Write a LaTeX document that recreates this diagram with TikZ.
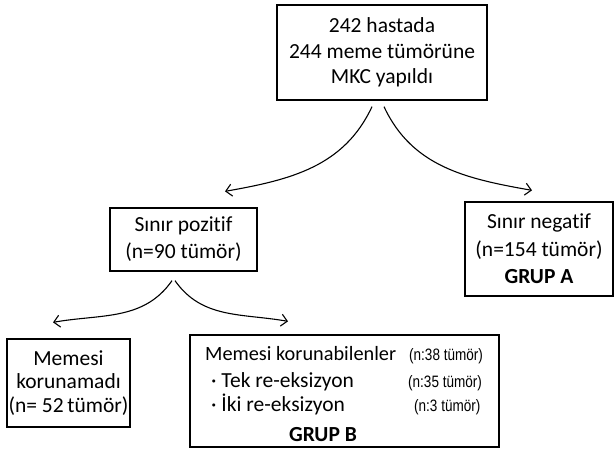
\documentclass[tikz,border=0pt]{standalone}
\usepackage{fontspec}
\setmainfont{Carlito}[Ligatures={NoCommon,NoContextual}]
\newfontfamily\narrowfont{Liberation Sans}[FakeStretch=0.82]
\usetikzlibrary{arrows.meta}

\begin{document}
\begin{tikzpicture}[x=1pt,y=-1pt,
  box/.style={draw,line width=1.3pt,inner sep=0pt,align=center,font=\fontsize{21.5}{25}\selectfont},
  arr/.style={line width=1.1pt,-{Straight Barb[length=6pt,width=12pt,line width=1.1pt]}},
  txt/.style={inner sep=0pt,anchor=base west,font=\fontsize{21.5}{25}\selectfont},
  cnt/.style={inner sep=0pt,anchor=base west,font=\narrowfont\fontsize{16.5}{18}\selectfont}]
\useasboundingbox (0,0) rectangle (615,458);
\node[box,minimum width=210,minimum height=95,font=\fontsize{21.5}{25.5}\selectfont] (top) at (382,52.5) {242 hastada\\244 meme tümörüne\\MKC yapıldı};
\node[box,minimum width=147,minimum height=63,font=\fontsize{21.5}{27}\selectfont] (pos) at (183.5,239.5) {Sınır pozitif\\(n=90 tümör)};
\node[box,minimum width=148,minimum height=94,font=\fontsize{21.5}{27.5}\selectfont] (neg) at (539,249) {Sınır negatif\\(n=154 tümör)\\\textbf{GRUP A}};
\node[box,minimum width=123,minimum height=88,font=\fontsize{21.5}{23.5}\selectfont] (mem) at (68.5,383) {Memesi\\korunamadı\\(n= 52\,tümör)};
\node[box,minimum width=309,minimum height=112] (grupb) at (344.5,391) {};
\node[txt,font=\fontsize{20.3}{25}\selectfont] (kor) at (205,360) {Memesi korunabilenler};
\node[txt] (tek) at (211,387) {· Tek re-eksizyon};
\node[txt] (iki) at (211,411) {· İki re-eksizyon};
\node[txt,anchor=base,font=\bfseries\fontsize{21.5}{25}\selectfont] (gb) at (323,441) {GRUP B};
\node[cnt] (n38) at (409,360) {(n:38 tümör)};
\node[cnt] (n35) at (408,387) {(n:35 tümör)};
\node[cnt] (n3) at (414,411) {(n:3 tümör)};
\draw[arr] ([xshift=-10pt,yshift=-6pt]top.south) to[out=-115,in=10] ([xshift=41.5pt,yshift=16pt]pos.north);
\draw[arr] ([xshift=2pt,yshift=-6pt]top.south) to[out=-65,in=170] ([xshift=-7pt,yshift=11pt]neg.north);
\draw[arr] ([xshift=-11.5pt,yshift=-9pt]pos.south) to[out=-125,in=10] ([xshift=-15.5pt,yshift=16pt]mem.north);
\draw[arr] ([xshift=-8.5pt,yshift=-9pt]pos.south) to[out=-55,in=170] ([xshift=-56.5pt,yshift=13pt]grupb.north);
\end{tikzpicture}
\end{document}
